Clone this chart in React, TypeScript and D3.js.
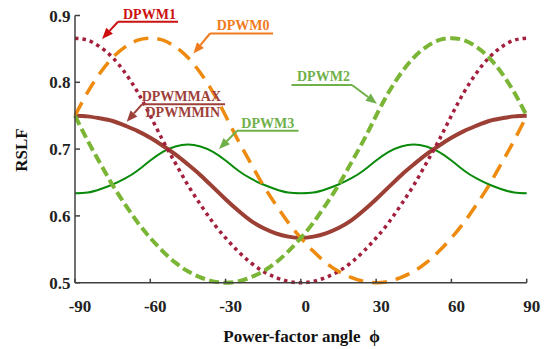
import React from 'react';
import * as d3 from 'd3';

// power-factor angle (deg)
const phi = [-90, -85, -80, -75, -70, -65, -60, -55, -50, -45, -40, -35, -30, -25, -20, -15, -10, -5, 0,
  5, 10, 15, 20, 25, 30, 35, 40, 45, 50, 55, 60, 65, 70, 75, 80, 85, 90];

const dpwm0 = [0.750, 0.785, 0.814, 0.837, 0.853, 0.863, 0.866, 0.863, 0.853, 0.837, 0.814, 0.785, 0.750,
  0.713, 0.679, 0.646, 0.617, 0.590, 0.567, 0.547, 0.530, 0.517, 0.508, 0.502, 0.500,
  0.502, 0.508, 0.517, 0.530, 0.547, 0.567, 0.590, 0.617, 0.646, 0.679, 0.713, 0.750];
const dpwm1 = [0.866, 0.863, 0.853, 0.837, 0.814, 0.785, 0.750, 0.713, 0.679, 0.646, 0.617, 0.590, 0.567,
  0.547, 0.530, 0.517, 0.508, 0.502, 0.500, 0.502, 0.508, 0.517, 0.530, 0.547, 0.567,
  0.590, 0.617, 0.646, 0.679, 0.713, 0.750, 0.785, 0.814, 0.837, 0.853, 0.863, 0.866];
const dpwm2 = [0.750, 0.713, 0.679, 0.646, 0.617, 0.590, 0.567, 0.547, 0.530, 0.517, 0.508, 0.502, 0.500,
  0.502, 0.508, 0.517, 0.530, 0.547, 0.567, 0.590, 0.617, 0.646, 0.679, 0.713, 0.750,
  0.785, 0.814, 0.837, 0.853, 0.863, 0.866, 0.863, 0.853, 0.837, 0.814, 0.785, 0.750];
const dpwm3 = [0.634, 0.635, 0.640, 0.647, 0.656, 0.668, 0.683, 0.696, 0.704, 0.707, 0.704, 0.696, 0.683,
  0.668, 0.656, 0.647, 0.640, 0.635, 0.634, 0.635, 0.640, 0.647, 0.656, 0.668, 0.683,
  0.696, 0.704, 0.707, 0.704, 0.696, 0.683, 0.668, 0.656, 0.647, 0.640, 0.635, 0.634];
const dpwmMax = [0.750, 0.749, 0.746, 0.742, 0.735, 0.727, 0.717, 0.705, 0.692, 0.677, 0.661, 0.643, 0.625,
  0.608, 0.593, 0.582, 0.574, 0.569, 0.567, 0.569, 0.574, 0.582, 0.593, 0.608, 0.625,
  0.643, 0.661, 0.677, 0.692, 0.705, 0.717, 0.727, 0.735, 0.742, 0.746, 0.749, 0.750];

const xTicks = [-90, -60, -30, 0, 30, 60, 90];
const yTicks = [0.5, 0.6, 0.7, 0.8, 0.9];

const W = 555, H = 349;
const font = '"Liberation Serif", "Times New Roman", serif';

export default function App() {
  const x = d3.scaleLinear().domain([-90, 90]).range([75, 526.7]);
  const y = d3.scaleLinear().domain([0.5, 0.9]).range([282.7, 15.5]);
  const line = (vals: number[]) =>
    d3.line<number>().x((d, i) => x(phi[i])).y(d => y(d)).curve(d3.curveNatural)(vals) || '';

  const series = [
    { v: dpwm3, color: '#0a8a0a', w: 2, dash: undefined },
    { v: dpwmMax, color: '#9c3f35', w: 4, dash: undefined },
    { v: dpwm1, color: '#a31f3c', w: 3.5, dash: '3.5 4' },
    { v: dpwm0, color: '#ee8a0e', w: 3.5, dash: '15 9' },
    { v: dpwm2, color: '#7ab535', w: 4, dash: '10 4.5' },
  ];

  // annotations: label position (px) and arrow tip (data)
  const notes = [
    { lines: ['DPWM1'], color: '#cc1010', tx: 123, ty: 18.5, l0: 118, l1: 178, ly: 21.7, tip: [-79.2, 0.865] },
    { lines: ['DPWM0'], color: '#f07a1e', tx: 216.7, ty: 30, l0: 210, l1: 273, ly: 33.5, tip: [-42.8, 0.843] },
    { lines: ['DPWMMAX', 'DPWMMIN'], color: '#9e403a', tx: 141.7, ty: 100.5, l0: 142, l1: 225, ly: 104.3, tip: [-69.4, 0.741] },
    { lines: ['DPWM2'], color: '#6fb04a', tx: 297, ty: 80.5, l0: 291.5, l1: 352, ly: 85, tip: [30.3, 0.768], fromRight: true },
    { lines: ['DPWM3'], color: '#6fb04a', tx: 241.3, ty: 127.5, l0: 237, l1: 298.5, ly: 130.7, tip: [-32.6, 0.7] },
  ];

  const arrow = (sx: number, sy: number, ex: number, ey: number, color: string, key: string) => {
    const a = Math.atan2(ey - sy, ex - sx);
    const len = 11, half = 4.5;
    const bx = ex - len * Math.cos(a), by = ey - len * Math.sin(a);
    const px = -Math.sin(a) * half, py = Math.cos(a) * half;
    return (
      <g key={key}>
        <line x1={sx} y1={sy} x2={bx} y2={by} stroke={color} strokeWidth={2} />
        <path d={`M${ex},${ey}L${bx + px},${by + py}L${bx - px},${by - py}Z`} fill={color} />
      </g>
    );
  };

  return (
    <div style={{ position: 'absolute', left: 0, top: 0 }}>
      <svg width={W} height={H} style={{ display: 'block', background: '#fff' }}>
        {series.map((s, i) => (
          <path key={i} d={line(s.v)} fill="none" stroke={s.color} strokeWidth={s.w}
            strokeDasharray={s.dash} />
        ))}

        <g stroke="#404040" strokeWidth={1.5}>
          <line x1={x(-90)} x2={x(-90)} y1={y(0.9)} y2={y(0.5)} />
          <line x1={x(-90)} x2={x(90)} y1={y(0.5)} y2={y(0.5)} />
          {yTicks.map(t => <line key={t} x1={x(-90)} x2={x(-90) + 5} y1={y(t)} y2={y(t)} />)}
          {xTicks.map(t => <line key={t} x1={x(t)} x2={x(t)} y1={y(0.5)} y2={y(0.5) - 4} />)}
        </g>

        <g fontFamily={font} fontWeight="bold" fontSize={17} fill="#222">
          {yTicks.map(t => (
            <text key={t} x={70.5} y={y(t) + 6} textAnchor="end">{t.toFixed(1)}</text>
          ))}
          {xTicks.map(t => (
            <text key={t} x={x(t) + 5} y={312} textAnchor="middle">{t === 0 ? '0' : String(t).replace('−', '-')}</text>
          ))}
          <text x={301.5} y={342} textAnchor="middle" fill="#111">Power-factor angle {'\u00a0'}ϕ</text>
          <text transform="translate(27,150) rotate(-90)" textAnchor="middle" fill="#111">RSLF</text>
        </g>

        {notes.map((n, i) => {
          const ex = x(n.tip[0]), ey = y(n.tip[1]);
          const sx = n.fromRight ? n.l1 : n.l0;
          return (
            <g key={i}>
              {n.lines.map((t, j) => (
                <text key={t} x={n.tx + j * 3.8} y={n.ty + j * 16.5} fontFamily={font} fontWeight="bold"
                  fontSize={14} fill={n.color}>{t}</text>
              ))}
              <line x1={n.l0} x2={n.l1} y1={n.ly} y2={n.ly} stroke={n.color} strokeWidth={2} />
              {arrow(sx, n.ly, ex, ey, n.color, 'a' + i)}
            </g>
          );
        })}
      </svg>
    </div>
  );
}
